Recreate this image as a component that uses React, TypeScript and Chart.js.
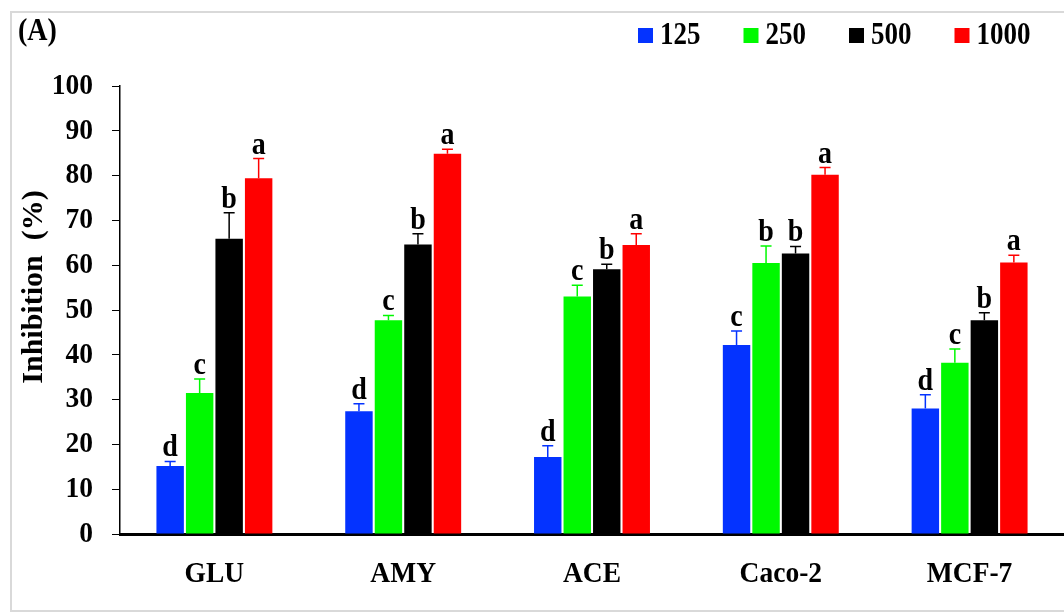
import { useEffect, useRef } from "react";
import { Chart, registerables } from "chart.js";

Chart.register(...registerables);

const categories = ["GLU", "AMY", "ACE", "Caco-2", "MCF-7"];
const seriesNames = ["125", "250", "500", "1000"];
const seriesColors = ["#0433ff", "#00f900", "#000000", "#ff0000"];

const values125 = [15.2, 27.4, 17.2, 42.2, 28.0];
const values250 = [31.5, 47.7, 53.0, 60.5, 38.2];
const values500 = [65.9, 64.6, 59.1, 62.6, 47.7];
const values1000 = [79.4, 84.9, 64.5, 80.2, 60.6];

const errors125 = [1.0, 1.7, 2.5, 3.1, 3.1];
const errors250 = [3.1, 1.1, 2.5, 3.8, 3.1];
const errors500 = [5.8, 2.4, 1.1, 1.6, 1.7];
const errors1000 = [4.4, 1.0, 2.5, 1.6, 1.6];

const letters125 = ["d", "d", "d", "c", "d"];
const letters250 = ["c", "c", "c", "b", "c"];
const letters500 = ["b", "b", "b", "b", "b"];
const letters1000 = ["a", "a", "a", "a", "a"];

const yTickValues = [0, 10, 20, 30, 40, 50, 60, 70, 80, 90, 100];
const yTitle = "Inhibition  (%)";
const panelLabel = "(A)";

const allValues = [values125, values250, values500, values1000];
const allErrors = [errors125, errors250, errors500, errors1000];
const allLetters = [letters125, letters250, letters500, letters1000];

const FONT = '"Liberation Serif", "Times New Roman", serif';
const STRETCH = 1.1;

function drawText(
  ctx: CanvasRenderingContext2D,
  text: string,
  x: number,
  y: number,
  size: number,
  align: CanvasTextAlign,
  baseline: CanvasTextBaseline,
  sy: number = STRETCH
) {
  ctx.save();
  ctx.translate(x, y);
  ctx.scale(1, sy);
  ctx.font = `bold ${size}px ${FONT}`;
  ctx.textAlign = align;
  ctx.textBaseline = baseline;
  ctx.fillStyle = "#000000";
  ctx.fillText(text, 0, 0);
  ctx.restore();
}

const decorPlugin = {
  id: "decor",
  beforeDraw(chart: any) {
    const ctx = chart.ctx;
    ctx.save();
    ctx.fillStyle = "#ffffff";
    ctx.fillRect(0, 0, chart.width, chart.height);
    ctx.strokeStyle = "#d9d9d9";
    ctx.lineWidth = 2;
    ctx.strokeRect(11, 12, 1100, 599);
    ctx.restore();
  },
  afterDatasetsDraw(chart: any) {
    const ctx = chart.ctx;
    const yScale = chart.scales.y;
    ctx.save();
    chart.data.datasets.forEach((ds: any, i: number) => {
      const meta = chart.getDatasetMeta(i);
      meta.data.forEach((bar: any, j: number) => {
        const v = ds.data[j];
        const e = allErrors[i][j];
        const yTop = yScale.getPixelForValue(v + e);
        const x = bar.x;
        ctx.strokeStyle = seriesColors[i];
        ctx.lineWidth = 1.5;
        ctx.beginPath();
        ctx.moveTo(x, bar.y);
        ctx.lineTo(x, yTop);
        ctx.moveTo(x - 5.5, yTop);
        ctx.lineTo(x + 5.5, yTop);
        ctx.stroke();
        drawText(ctx, allLetters[i][j], x, yTop - 5, 28, "center", "alphabetic", 1.12);
      });
    });
    ctx.restore();
  },
  afterDraw(chart: any) {
    const ctx = chart.ctx;
    const xScale = chart.scales.x;
    const yScale = chart.scales.y;
    ctx.save();

    // y tick labels
    yTickValues.forEach((v) => {
      drawText(ctx, String(v), 93, yScale.getPixelForValue(v), 27.5, "right", "middle");
    });
    // x tick labels
    categories.forEach((c, i) => {
      drawText(ctx, c, xScale.getPixelForValue(i), 582, 27.5, "center", "alphabetic");
    });
    // y title
    ctx.save();
    ctx.translate(34, 287);
    ctx.rotate(-Math.PI / 2);
    ctx.font = `bold 30px ${FONT}`;
    ctx.textAlign = "center";
    ctx.textBaseline = "middle";
    ctx.fillStyle = "#000000";
    ctx.fillText(yTitle, 0, 0);
    ctx.restore();

    // panel label
    drawText(ctx, panelLabel, 18, 40, 28, "left", "alphabetic");

    // legend
    let x = 638;
    ctx.font = `bold 27px ${FONT}`;
    seriesNames.forEach((name, i) => {
      ctx.fillStyle = seriesColors[i];
      ctx.fillRect(x, 28, 15, 15);
      drawText(ctx, name, x + 22, 36, 27, "left", "middle", 1.15);
      ctx.font = `bold 27px ${FONT}`;
      x += 22 + ctx.measureText(name).width + 43;
    });
    ctx.restore();
  },
};

export default function App() {
  const canvasRef = useRef<HTMLCanvasElement | null>(null);

  useEffect(() => {
    document.body.style.margin = "0";
    const canvas = canvasRef.current;
    if (!canvas) return;
    const chart = new Chart(canvas, {
      type: "bar",
      data: {
        labels: categories,
        datasets: seriesNames.map((name, i) => ({
          label: name,
          data: allValues[i],
          backgroundColor: seriesColors[i],
          borderWidth: 0,
          categoryPercentage: 0.625,
          barPercentage: 0.93,
        })),
      },
      options: {
        responsive: false,
        animation: false,
        devicePixelRatio: 1,
        layout: { padding: { left: 0, top: 86, right: 0, bottom: 0 } },
        plugins: {
          legend: { display: false },
          title: { display: false },
          tooltip: { enabled: false },
        },
        scales: {
          x: {
            grid: { display: false, drawTicks: false },
            border: { display: true, color: "#000000", width: 3 },
            ticks: { display: false },
            afterFit(scale: any) {
              scale.height = 80;
            },
          },
          y: {
            min: 0,
            max: 100,
            afterBuildTicks(scale: any) {
              scale.ticks = yTickValues.map((v) => ({ value: v }));
            },
            grid: {
              display: true,
              drawOnChartArea: false,
              drawTicks: true,
              tickLength: 8,
              color: "#000000",
              lineWidth: 1,
            },
            border: { display: true, color: "#000000", width: 1.5 },
            ticks: { display: false },
            afterFit(scale: any) {
              scale.width = 120;
            },
          },
        },
      },
      plugins: [decorPlugin],
    });
    return () => chart.destroy();
  }, []);

  return (
    <div style={{ position: "absolute", left: 0, top: 0, width: 1064, height: 614 }}>
      <canvas ref={canvasRef} width={1064} height={614} style={{ display: "block" }} />
    </div>
  );
}
